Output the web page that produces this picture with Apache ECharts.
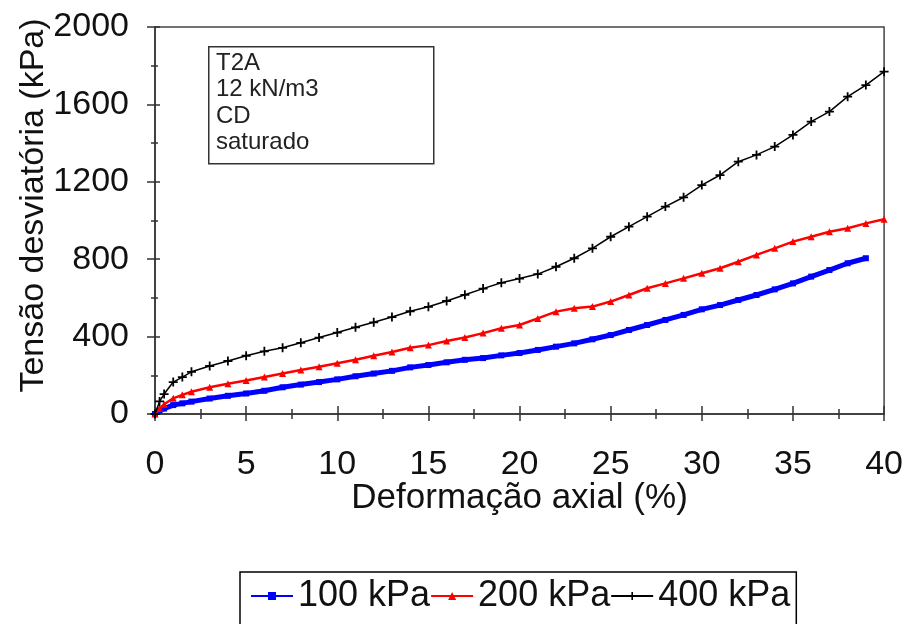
<!DOCTYPE html>
<html>
<head>
<meta charset="utf-8">
<script src="https://cdn.jsdelivr.net/npm/echarts@6/dist/echarts.min.js"></script>
<style>
  html, body { margin: 0; padding: 0; background: #fff; }
  #chart { width: 906px; height: 624px; }
</style>
</head>
<body>
<div id="chart"></div>
<script>
// deformação axial (%) e tensão desviatória (kPa)
const strain = [0, 0.25, 0.5, 1, 1.5, 2, 3, 4, 5, 6, 7, 8, 9, 10, 11, 12, 13, 14, 15, 16, 17, 18, 19, 20,
  21, 22, 23, 24, 25, 26, 27, 28, 29, 30, 31, 32, 33, 34, 35, 36, 37, 38, 39, 40];
const s100 = [0, 18, 28, 46, 55, 64, 80, 94, 106, 120, 138, 152, 165, 179, 195, 209, 223, 241, 253, 267, 280, 289, 303, 315,
  331, 348, 365, 386, 408, 434, 460, 486, 512, 541, 563, 589, 615, 644, 675, 710, 744, 779, 805];
const s200 = [0, 28, 50, 81, 99, 115, 138, 156, 173, 191, 209, 227, 244, 262, 280, 301, 320, 342, 356, 377, 395, 418, 443, 460,
  494, 529, 546, 555, 581, 615, 650, 675, 701, 727, 753, 787, 822, 856, 891, 916, 942, 960, 985, 1006];
const s400 = [0, 65, 103, 165, 191, 218, 248, 274, 301, 324, 342, 368, 395, 421, 448, 474, 501, 531, 554, 584, 616, 648, 678, 700,
  723, 761, 805, 856, 916, 968, 1020, 1072, 1120, 1183, 1235, 1304, 1339, 1382, 1442, 1511, 1563, 1640, 1700, 1769];
const seriesNames = ["100 kPa", "200 kPa", "400 kPa"];
const infoLines = ["T2A", "12 kN/m3", "CD", "saturado"];

const FONT = "Liberation Sans, Arial, sans-serif";
const AX = "#333";

const chart = echarts.init(document.getElementById("chart"));

const pair = (xs, ys) => ys.map((y, i) => [xs[i], y]);
const plusIcon = "path://M4,0 H6 V4 H10 V6 H6 V10 H4 V6 H0 V4 H4 Z";

const xBase = {
  type: "value",
  min: 0,
  max: 40,
  interval: 5,
  position: "bottom",
  splitLine: { show: false },
};
const yBase = {
  type: "value",
  min: 0,
  max: 2000,
  interval: 400,
  position: "left",
  splitLine: { show: false },
};

const option = {
  backgroundColor: "#fff",
  animation: false,
  textStyle: { fontFamily: FONT },
  grid: {
    left: 155,
    right: 17,
    top: 27,
    bottom: 210,
    show: true,
    borderColor: "#444",
    borderWidth: 1.5,
  },
  legend: {
    left: 240,
    top: 572,
    padding: [6, 6, 30, 10],
    borderColor: "#000",
    borderWidth: 1.5,
    itemWidth: 42,
    itemHeight: 10,
    itemGap: 0,
    textStyle: { fontSize: 36, color: "#111", fontFamily: FONT },
    data: seriesNames,
  },
  xAxis: [
    Object.assign({}, xBase, {
      name: "Deformação axial (%)",
      nameLocation: "middle",
      nameGap: 67,
      nameMoveOverlap: false,
      nameTextStyle: { fontSize: 35, color: "#111", fontFamily: FONT },
      axisLine: { lineStyle: { color: AX, width: 1.5 } },
      axisTick: { inside: false, length: 7, lineStyle: { color: AX, width: 1.5 } },
      minorTick: { show: true, splitNumber: 2, length: 5, lineStyle: { color: AX, width: 1.5 } },
      axisLabel: { fontSize: 34, color: "#111", margin: 34, fontFamily: FONT },
    }),
    Object.assign({}, xBase, {
      axisLine: { show: false },
      axisTick: { inside: true, length: 8, lineStyle: { color: AX, width: 1.5 } },
      minorTick: { show: true, splitNumber: 2, length: 5, lineStyle: { color: AX, width: 1.5 } },
      axisLabel: { show: false },
    }),
  ],
  yAxis: [
    Object.assign({}, yBase, {
      name: "Tensão desviatória (kPa)",
      nameLocation: "middle",
      nameGap: 104,
      nameMoveOverlap: false,
      nameTextStyle: { fontSize: 34, color: "#111", fontFamily: FONT, padding: [0, 0, 0, 30] },
      axisLine: { lineStyle: { color: AX, width: 1.5 } },
      axisTick: { inside: false, length: 8, lineStyle: { color: AX, width: 1.5 } },
      minorTick: { show: true, splitNumber: 2, length: 4, lineStyle: { color: AX, width: 1.5 } },
      axisLabel: {
        fontSize: 34,
        color: "#111",
        margin: 26,
        fontFamily: FONT,
        formatter: (v) => String(v),
      },
    }),
    Object.assign({}, yBase, {
      axisLine: { show: false },
      axisTick: { inside: true, length: 5, lineStyle: { color: AX, width: 1.5 } },
      minorTick: { show: true, splitNumber: 2, length: 3, lineStyle: { color: AX, width: 1.5 } },
      axisLabel: { show: false },
    }),
  ],
  graphic: [
    {
      type: "rect",
      left: 208,
      top: 46,
      shape: { width: 225, height: 117 },
      style: { fill: "#fff", stroke: "#333", lineWidth: 1.5 },
      z: 10,
    },
    {
      type: "text",
      left: 216,
      top: 50,
      style: {
        text: infoLines.join("\n"),
        font: "24px " + FONT,
        lineHeight: 26.5,
        fill: "#222",
      },
      z: 11,
    },
  ],
  series: [
    {
      name: seriesNames[0],
      type: "line",
      data: pair(strain, s100),
      color: "#0000ff",
      symbol: "rect",
      symbolSize: 6,
      showAllSymbol: true,
      lineStyle: { width: 5 },
      z: 3,
    },
    {
      name: seriesNames[1],
      type: "line",
      data: pair(strain, s200),
      color: "#ff0000",
      symbol: "triangle",
      symbolSize: 7,
      showAllSymbol: true,
      lineStyle: { width: 2.5 },
      z: 4,
    },
    {
      name: seriesNames[2],
      type: "line",
      data: pair(strain, s400),
      color: "#000000",
      symbol: plusIcon,
      symbolSize: 9,
      showAllSymbol: true,
      lineStyle: { width: 1.5 },
      z: 5,
    },
  ],
};

chart.setOption(option);
</script>
</body>
</html>
